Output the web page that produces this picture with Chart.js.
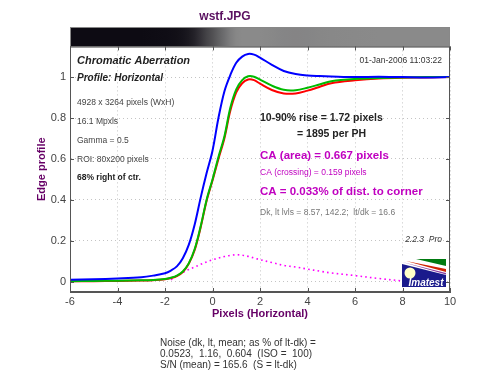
<!DOCTYPE html>
<html lang="en">

<head>
  <meta charset="UTF-8">
  <title>wstf.JPG - Chromatic Aberration</title>
  <script src="https://cdn.jsdelivr.net/npm/chart.js"></script>
  <style>
    body {
      margin: 0;
      background: #fff;
    }

    canvas {
      display: block;
    }
  </style>
</head>

<body>
  <canvas id="myChart" width="500" height="384"></canvas>

  <script>
    // edge profile samples (pixels from edge centre)
    const pixels = [-6, -5, -4, -3, -2.5, -2, -1.75, -1.5, -1.25, -1, -0.75, -0.5, -0.25, 0, 0.25, 0.5, 0.75,
      1, 1.25, 1.5, 1.75, 2, 2.5, 3, 3.5, 4, 4.5, 5, 6, 7, 8, 9, 10];
    const blueEdge = [0.010, 0.012, 0.016, 0.022, 0.030, 0.042, 0.055, 0.075, 0.115, 0.180, 0.280, 0.410, 0.530,
      0.640, 0.800, 0.930, 1.010, 1.070, 1.100, 1.113, 1.110, 1.095, 1.060, 1.030, 1.015, 1.008, 1.005, 1.003,
      1.000, 1.002, 1.000, 0.998, 1.000];
    const greenEdge = [0.003, 0.004, 0.005, 0.007, 0.009, 0.014, 0.020, 0.030, 0.050, 0.090, 0.160, 0.270, 0.400,
      0.500, 0.610, 0.710, 0.850, 0.940, 0.985, 1.004, 1.002, 0.988, 0.958, 0.938, 0.936, 0.948, 0.964, 0.980,
      0.991, 0.995, 0.998, 1.000, 1.000];
    const redEdge = [0.003, 0.003, 0.004, 0.006, 0.008, 0.012, 0.018, 0.028, 0.048, 0.088, 0.155, 0.265, 0.395,
      0.495, 0.600, 0.700, 0.835, 0.925, 0.970, 0.988, 0.985, 0.968, 0.937, 0.920, 0.920, 0.934, 0.952, 0.970,
      0.984, 0.993, 0.997, 0.998, 1.000];
    const caDiff = [null, null, null, null, null, null, 0.010, 0.030, 0.045, 0.060, 0.072, 0.085, 0.097,
      0.107, 0.116, 0.123, 0.129, 0.132, 0.130, 0.124, 0.116, 0.108, 0.094, 0.080, 0.072, 0.062, 0.052, 0.043,
      0.030, 0.016, 0.004, null, null];

    const xTicks = [-6, -4, -2, 0, 2, 4, 6, 8, 10];
    const yTicks = [0, 0.2, 0.4, 0.6, 0.8, 1];

    const leftNotes = [
      ['Chromatic Aberration', 'italic bold 11px Arial'],
      ['Profile: Horizontal', 'italic bold 10px Arial'],
      ['4928 x 3264 pixels (WxH)', '8.5px Arial'],
      ['16.1 Mpxls', '8.5px Arial'],
      ['Gamma = 0.5', '8.5px Arial'],
      ['ROI: 80x200 pixels', '8.5px Arial'],
      ['68% right of ctr.', 'bold 8.5px Arial']
    ];
    const leftNoteY = [61, 78, 103, 121.5, 141, 160, 178];

    const rightNotes = [
      ['10-90% rise = 1.72 pixels', 'bold 10.5px Arial', '#222', 260, 118],
      ['= 1895 per PH', 'bold 10.5px Arial', '#222', 297, 134.5],
      ['CA (area) = 0.667 pixels', 'bold 11.5px Arial', '#c000c0', 260, 156],
      ['CA (crossing) = 0.159 pixels', '8.5px Arial', '#c000c0', 260, 173],
      ['CA = 0.033% of dist. to corner', 'bold 11.5px Arial', '#c000c0', 260, 192],
      ['Dk, lt lvls = 8.57, 142.2;  lt/dk = 16.6', '8.5px Arial', '#777', 260, 212.5]
    ];

    const noiseLines = [
      'Noise (dk, lt, mean; as % of lt-dk) =',
      '0.0523,  1.16,  0.604  (ISO =  100)',
      'S/N (mean) = 165.6  (S = lt-dk)'
    ];

    const pts = arr => pixels.map((x, i) => ({ x: x, y: arr[i] }));

    const clamp = v => Math.max(0, Math.min(1, v));

    const overlay = {
      id: 'overlay',
      afterDraw(chart) {
        const { ctx, chartArea: a, scales: { x, y } } = chart;
        ctx.save();

        // edge image strip above the plot
        const grad = ctx.createLinearGradient(a.left, 0, a.right, 0);
        pixels.forEach((p, i) => {
          const v = clamp((redEdge[i] + greenEdge[i] + blueEdge[i]) / 3);
          const r = Math.round(12 + 126 * v);
          const g = Math.round(10 + 128 * v);
          const b = Math.round(18 + 120 * v);
          grad.addColorStop((x.getPixelForValue(p) - a.left) / (a.right - a.left), `rgb(${r},${g},${b})`);
        });
        ctx.fillStyle = grad;
        ctx.fillRect(a.left, 27, a.right - a.left, a.top - 27);
        ctx.strokeStyle = '#888';
        ctx.lineWidth = 1;
        ctx.strokeRect(a.left + 0.5, 27.5, a.right - a.left - 1, a.top - 27);

        // frame and inner ticks
        ctx.strokeStyle = '#555';
        ctx.strokeRect(a.left + 0.5, a.top + 0.5, a.right - a.left - 1, a.bottom - a.top - 1);
        ctx.beginPath();
        xTicks.forEach(v => {
          const px = Math.round(x.getPixelForValue(v)) + 0.5;
          ctx.moveTo(px, a.bottom); ctx.lineTo(px, a.bottom - 4);
          ctx.moveTo(px, a.top); ctx.lineTo(px, a.top + 4);
        });
        yTicks.forEach(v => {
          const py = Math.round(y.getPixelForValue(v)) + 0.5;
          ctx.moveTo(a.left, py); ctx.lineTo(a.left + 4, py);
          ctx.moveTo(a.right, py); ctx.lineTo(a.right - 4, py);
        });
        ctx.stroke();

        // notes
        ctx.textBaseline = 'middle';
        ctx.textAlign = 'left';
        leftNotes.forEach(([t, f], i) => {
          ctx.font = f;
          ctx.fillStyle = i > 1 && i < 6 ? '#444' : '#222';
          ctx.fillText(t, a.left + 7, leftNoteY[i]);
        });
        rightNotes.forEach(([t, f, c, tx, ty]) => {
          ctx.font = f;
          ctx.fillStyle = c;
          ctx.fillText(t, tx, ty);
        });
        ctx.textAlign = 'right';
        ctx.font = '8.5px Arial';
        ctx.fillStyle = '#333';
        ctx.fillText('01-Jan-2006 11:03:22', a.right - 8, 61);
        ctx.font = 'italic 8.5px Arial';
        ctx.fillText('2.2.3  Pro', a.right - 8, 240);

        // Imatest logo
        const lx = a.right - 48, ly = a.bottom - 34, lw = 44, lh = 29;
        ctx.fillStyle = '#ffffff';
        ctx.fillRect(lx, ly, lw, lh);
        ctx.fillStyle = '#007a10';
        ctx.beginPath();
        ctx.moveTo(lx + 14, ly + 1); ctx.lineTo(lx + lw, ly + 1); ctx.lineTo(lx + lw, ly + 8);
        ctx.closePath(); ctx.fill();
        ctx.fillStyle = '#d02000';
        ctx.beginPath();
        ctx.moveTo(lx + 4, ly + 3); ctx.lineTo(lx + lw, ly + 11); ctx.lineTo(lx + lw, ly + 14);
        ctx.closePath(); ctx.fill();
        ctx.fillStyle = '#8a3aa0';
        ctx.beginPath();
        ctx.moveTo(lx, ly + 4); ctx.lineTo(lx + lw, ly + 15); ctx.lineTo(lx + lw, ly + 16.5);
        ctx.closePath(); ctx.fill();
        ctx.fillStyle = '#1a1a8c';
        ctx.beginPath();
        ctx.moveTo(lx, ly + 6); ctx.lineTo(lx + lw, ly + 17); ctx.lineTo(lx + lw, ly + lh); ctx.lineTo(lx, ly + lh);
        ctx.closePath(); ctx.fill();
        ctx.fillStyle = '#ffffc8';
        ctx.beginPath();
        ctx.arc(lx + 8, ly + 15, 5.5, 0, Math.PI * 2);
        ctx.fill();
        ctx.fillStyle = '#fff';
        ctx.textAlign = 'center';
        ctx.font = 'italic bold 10px Arial';
        ctx.fillText('Imatest', lx + 24, ly + 25);

        // noise summary below the chart
        ctx.textAlign = 'left';
        ctx.fillStyle = '#333';
        ctx.font = '10px Arial';
        noiseLines.forEach((t, i) => ctx.fillText(t, 160, 343 + i * 11.2));

        ctx.restore();
      }
    };

    const ctx = document.getElementById('myChart').getContext('2d');

    new Chart(ctx, {
      type: 'line',
      data: {
        datasets: [
          { label: 'Blue', data: pts(blueEdge), borderColor: '#0000ff', borderWidth: 2, pointRadius: 0, tension: 0.35 },
          { label: 'Green', data: pts(greenEdge), borderColor: '#00bb00', borderWidth: 2, pointRadius: 0, tension: 0.35 },
          { label: 'Red', data: pts(redEdge), borderColor: '#ff0000', borderWidth: 2, pointRadius: 0, tension: 0.35 },
          {
            label: 'CA', data: pts(caDiff), borderColor: '#ff00ff', borderWidth: 1.6, borderDash: [1.6, 3.2],
            pointRadius: 0, tension: 0.35
          }
        ]
      },
      options: {
        responsive: false,
        animation: false,
        layout: { padding: { left: 0, right: 50, top: 0, bottom: 60 } },
        plugins: {
          legend: { display: false },
          tooltip: { enabled: false },
          title: {
            display: true,
            text: 'wstf.JPG',
            color: '#5a1060',
            font: { family: 'Arial', size: 12, weight: 'bold' },
            padding: { top: 9, bottom: 23 }
          }
        },
        scales: {
          x: {
            type: 'linear',
            min: -6,
            max: 10,
            afterBuildTicks: s => { s.ticks = xTicks.map(v => ({ value: v })); },
            afterFit: s => { s.height = 32; },
            ticks: { color: '#444', font: { family: 'Arial', size: 11 }, padding: 3, callback: v => `${v}` },
            grid: { color: '#c4c4c4', drawTicks: false },
            border: { display: true, color: '#555', dash: [1, 3] },
            title: {
              display: true,
              text: 'Pixels (Horizontal)',
              color: '#660066',
              font: { family: 'Arial', size: 11, weight: 'bold' },
              padding: { top: 0, bottom: 3 }
            }
          },
          y: {
            min: -0.05,
            max: 1.15,
            afterBuildTicks: s => { s.ticks = yTicks.map(v => ({ value: v })); },
            afterFit: s => { s.width = 70; },
            ticks: { color: '#444', font: { family: 'Arial', size: 11 }, padding: 4, callback: v => `${v}` },
            grid: { color: '#c4c4c4', drawTicks: false },
            border: { display: true, color: '#555', dash: [1, 3] },
            title: {
              display: true,
              text: 'Edge profile',
              color: '#660066',
              font: { family: 'Arial', size: 11, weight: 'bold' },
              padding: { top: 35, bottom: 0 }
            }
          }
        }
      },
      plugins: [overlay]
    });
  </script>
</body>

</html>
